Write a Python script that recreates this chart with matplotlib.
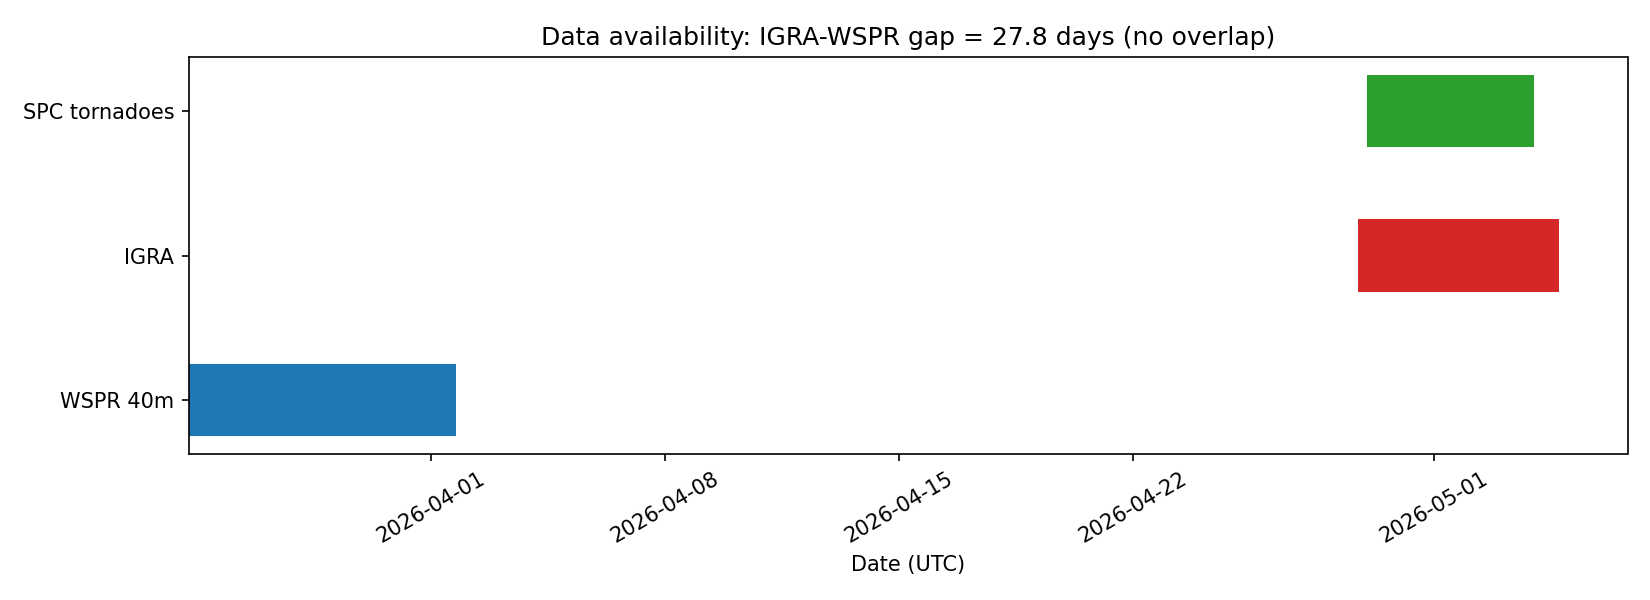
import matplotlib
matplotlib.use("Agg")
import matplotlib.pyplot as plt
import matplotlib.dates as mdates
from datetime import datetime

# data sources and their time coverage (UTC)
sources = ["WSPR 40m", "IGRA", "SPC tornadoes"]
starts = [datetime(2026, 3, 24, 18), datetime(2026, 4, 28, 18), datetime(2026, 4, 29, 0)]
ends = [datetime(2026, 4, 1, 18), datetime(2026, 5, 4, 18), datetime(2026, 5, 4, 0)]
colors = ["tab:blue", "tab:red", "tab:green"]

fig, ax = plt.subplots(figsize=(11, 4), dpi=150)

left = mdates.date2num(starts)
width = mdates.date2num(ends) - left
ax.barh(range(len(sources)), width, left=left, height=0.5, color=colors)

ax.set_yticks(range(len(sources)))
ax.set_yticklabels(sources)
ax.xaxis_date()
ax.xaxis.set_major_formatter(mdates.DateFormatter("%Y-%m-%d"))
plt.setp(ax.get_xticklabels(), rotation=30)
ax.set_xlabel("Date (UTC)")
ax.set_title("Data availability: IGRA-WSPR gap = 27.8 days (no overlap)")

fig.tight_layout()
fig.subplots_adjust(top=0.905, bottom=0.243)
fig.savefig("out.png", dpi=150)
